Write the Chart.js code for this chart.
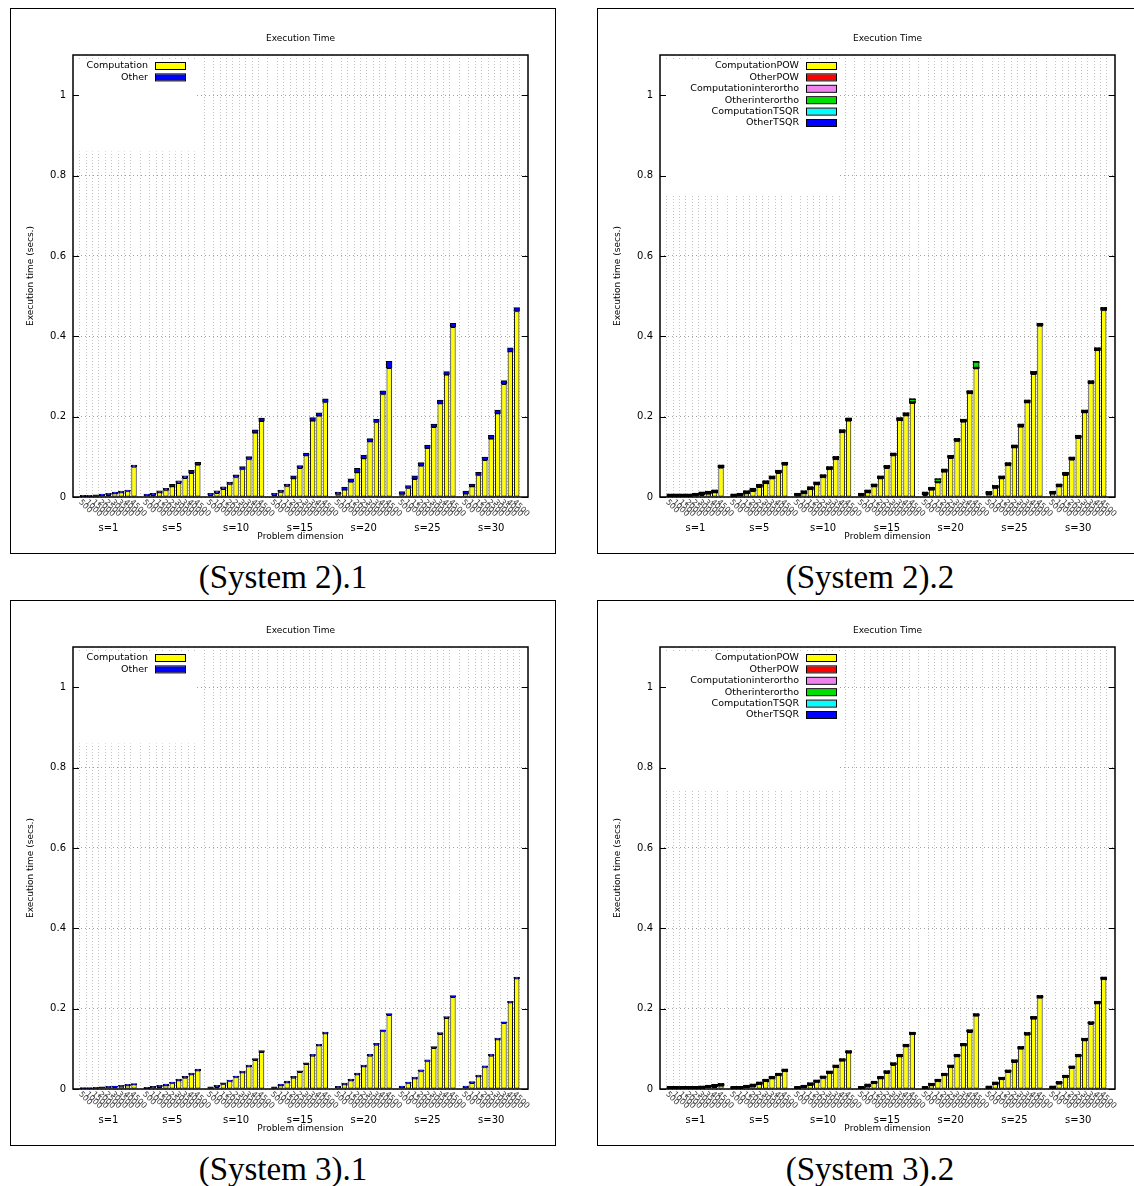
<!DOCTYPE html>
<html>
<head>
<meta charset="utf-8">
<script src="https://cdn.jsdelivr.net/npm/chart.js@4.4.1/dist/chart.umd.min.js"></script>
<style>
  html, body { margin: 0; padding: 0; background: #fff; overflow: hidden; }
  body { width: 1134px; height: 1186px; position: relative; }
  .panel { position: absolute; width: 544px; height: 544px; border: 1px solid #000; }
  .panel canvas { display: block; }
  .caption { position: absolute; width: 546px; text-align: center;
    font-family: "Liberation Serif", serif; font-size: 33px; line-height: 36px; color: #000; }
</style>
</head>
<body>
<div class="panel" style="left:10px;top:8px"><canvas id="c1" width="544" height="544"></canvas></div>
<div class="panel" style="left:597px;top:8px"><canvas id="c2" width="544" height="544"></canvas></div>
<div class="panel" style="left:10px;top:600px"><canvas id="c3" width="544" height="544"></canvas></div>
<div class="panel" style="left:597px;top:600px"><canvas id="c4" width="544" height="544"></canvas></div>
<div class="caption" style="left:10px;top:559px">(System 2).1</div>
<div class="caption" style="left:597px;top:559px">(System 2).2</div>
<div class="caption" style="left:10px;top:1151px">(System 3).1</div>
<div class="caption" style="left:597px;top:1151px">(System 3).2</div>

<script>
// problem dimensions (one bar each) and the s groups
const dims = ['500', '1000', '1500', '2000', '2500', '3000', '3500', '4000', '4500'];
const groups = ['s=1', 's=5', 's=10', 's=15', 's=20', 's=25', 's=30'];
const yTicks = [0, 0.2, 0.4, 0.6, 0.8, 1];

// System 2, two-part split
const sys2Computation = [
  0.001, 0.001, 0.002, 0.004, 0.006, 0.009, 0.011, 0.014, 0.075,
  0.004, 0.005, 0.011, 0.017, 0.026, 0.035, 0.047, 0.060, 0.080,
  0.005, 0.010, 0.020, 0.032, 0.049, 0.069, 0.094, 0.160, 0.189,
  0.005, 0.012, 0.027, 0.046, 0.072, 0.103, 0.190, 0.202, 0.236,
  0.007, 0.018, 0.038, 0.061, 0.096, 0.138, 0.186, 0.256, 0.321,
  0.007, 0.022, 0.045, 0.078, 0.122, 0.174, 0.233, 0.304, 0.423,
  0.008, 0.026, 0.054, 0.092, 0.145, 0.208, 0.281, 0.362, 0.462
];
const sys2Other = [
  0.003, 0.003, 0.003, 0.003, 0.003, 0.003, 0.003, 0.003, 0.004,
  0.003, 0.004, 0.004, 0.004, 0.005, 0.005, 0.005, 0.006, 0.006,
  0.004, 0.005, 0.005, 0.005, 0.006, 0.006, 0.006, 0.007, 0.007,
  0.004, 0.005, 0.005, 0.006, 0.006, 0.006, 0.007, 0.007, 0.008,
  0.005, 0.006, 0.007, 0.010, 0.007, 0.007, 0.007, 0.008, 0.016,
  0.006, 0.006, 0.007, 0.007, 0.007, 0.007, 0.008, 0.008, 0.009,
  0.006, 0.006, 0.007, 0.007, 0.008, 0.008, 0.008, 0.009, 0.009
];

// System 2, per-kernel split
const sys2CompPOW = [
  0.001, 0.001, 0.001, 0.001, 0.003, 0.006, 0.008, 0.011, 0.073,
  0.001, 0.003, 0.009, 0.015, 0.025, 0.034, 0.046, 0.060, 0.080,
  0.003, 0.009, 0.019, 0.031, 0.049, 0.069, 0.094, 0.161, 0.190,
  0.003, 0.011, 0.026, 0.046, 0.072, 0.103, 0.191, 0.203, 0.234,
  0.006, 0.018, 0.036, 0.063, 0.097, 0.139, 0.187, 0.258, 0.320,
  0.007, 0.022, 0.046, 0.079, 0.123, 0.175, 0.235, 0.306, 0.426,
  0.008, 0.026, 0.055, 0.093, 0.147, 0.210, 0.283, 0.365, 0.465
];
const sys2OtherPOW = [
  0.001, 0.001, 0.001, 0.001, 0.001, 0.001, 0.001, 0.001, 0.001,
  0.001, 0.001, 0.001, 0.001, 0.001, 0.001, 0.001, 0.001, 0.001,
  0.001, 0.001, 0.001, 0.001, 0.001, 0.001, 0.001, 0.001, 0.001,
  0.001, 0.001, 0.001, 0.001, 0.001, 0.001, 0.001, 0.001, 0.001,
  0.001, 0.001, 0.001, 0.001, 0.001, 0.001, 0.001, 0.001, 0.001,
  0.001, 0.001, 0.001, 0.001, 0.001, 0.001, 0.001, 0.001, 0.001,
  0.001, 0.001, 0.001, 0.001, 0.001, 0.001, 0.001, 0.001, 0.001
];
const sys2CompInter = [
  0.002, 0.002, 0.002, 0.002, 0.002, 0.002, 0.002, 0.002, 0.002,
  0.002, 0.002, 0.002, 0.002, 0.002, 0.002, 0.002, 0.002, 0.002,
  0.002, 0.002, 0.002, 0.002, 0.002, 0.002, 0.002, 0.002, 0.002,
  0.002, 0.002, 0.002, 0.002, 0.002, 0.002, 0.002, 0.002, 0.002,
  0.002, 0.002, 0.002, 0.002, 0.002, 0.002, 0.002, 0.002, 0.002,
  0.002, 0.002, 0.002, 0.002, 0.002, 0.002, 0.002, 0.002, 0.002,
  0.002, 0.002, 0.002, 0.002, 0.002, 0.002, 0.002, 0.002, 0.002
];
const sys2OtherInter = [
  0.001, 0.001, 0.001, 0.001, 0.001, 0.001, 0.001, 0.001, 0.001,
  0.001, 0.001, 0.001, 0.001, 0.001, 0.001, 0.001, 0.001, 0.001,
  0.001, 0.001, 0.001, 0.001, 0.001, 0.001, 0.001, 0.001, 0.001,
  0.001, 0.001, 0.001, 0.001, 0.001, 0.001, 0.001, 0.001, 0.005,
  0.001, 0.001, 0.004, 0.001, 0.001, 0.001, 0.001, 0.001, 0.012,
  0.001, 0.001, 0.001, 0.001, 0.001, 0.001, 0.001, 0.001, 0.001,
  0.001, 0.001, 0.001, 0.001, 0.001, 0.001, 0.001, 0.001, 0.001
];
const sys2CompTSQR = [
  0.001, 0.001, 0.001, 0.001, 0.001, 0.001, 0.001, 0.001, 0.001,
  0.001, 0.001, 0.001, 0.001, 0.001, 0.001, 0.001, 0.001, 0.001,
  0.001, 0.001, 0.001, 0.001, 0.001, 0.001, 0.001, 0.001, 0.001,
  0.001, 0.001, 0.001, 0.001, 0.001, 0.001, 0.001, 0.001, 0.001,
  0.001, 0.001, 0.001, 0.001, 0.001, 0.001, 0.001, 0.001, 0.001,
  0.001, 0.001, 0.001, 0.001, 0.001, 0.001, 0.001, 0.001, 0.001,
  0.001, 0.001, 0.001, 0.001, 0.001, 0.001, 0.001, 0.001, 0.001
];
const sys2OtherTSQR = [
  0.001, 0.001, 0.001, 0.001, 0.001, 0.001, 0.001, 0.001, 0.001,
  0.001, 0.001, 0.001, 0.001, 0.001, 0.001, 0.001, 0.001, 0.001,
  0.001, 0.001, 0.001, 0.001, 0.001, 0.001, 0.001, 0.001, 0.001,
  0.001, 0.001, 0.001, 0.001, 0.001, 0.001, 0.001, 0.001, 0.001,
  0.001, 0.001, 0.001, 0.001, 0.001, 0.001, 0.001, 0.001, 0.001,
  0.001, 0.001, 0.001, 0.001, 0.001, 0.001, 0.001, 0.001, 0.001,
  0.001, 0.001, 0.001, 0.001, 0.001, 0.001, 0.001, 0.001, 0.001
];

// System 3, two-part split
const sys3Computation = [
  0.001, 0.001, 0.002, 0.003, 0.004, 0.005, 0.007, 0.009, 0.011,
  0.001, 0.003, 0.006, 0.009, 0.014, 0.021, 0.028, 0.036, 0.046,
  0.002, 0.006, 0.012, 0.019, 0.029, 0.041, 0.056, 0.072, 0.092,
  0.002, 0.009, 0.016, 0.028, 0.042, 0.062, 0.083, 0.108, 0.138,
  0.003, 0.011, 0.021, 0.036, 0.056, 0.083, 0.110, 0.144, 0.184,
  0.004, 0.014, 0.026, 0.044, 0.069, 0.102, 0.137, 0.177, 0.229,
  0.004, 0.015, 0.031, 0.054, 0.083, 0.123, 0.164, 0.215, 0.275
];
const sys3Other = [
  0.002, 0.002, 0.002, 0.002, 0.002, 0.002, 0.002, 0.002, 0.002,
  0.003, 0.003, 0.003, 0.003, 0.003, 0.003, 0.003, 0.003, 0.003,
  0.003, 0.003, 0.003, 0.003, 0.003, 0.003, 0.003, 0.003, 0.003,
  0.003, 0.003, 0.003, 0.003, 0.003, 0.003, 0.003, 0.003, 0.003,
  0.003, 0.003, 0.003, 0.003, 0.003, 0.003, 0.003, 0.003, 0.003,
  0.003, 0.003, 0.003, 0.003, 0.003, 0.003, 0.003, 0.003, 0.003,
  0.003, 0.003, 0.003, 0.003, 0.003, 0.003, 0.003, 0.003, 0.003
];

// System 3, per-kernel split
const sys3CompPOW = [
  0.001, 0.001, 0.001, 0.001, 0.001, 0.002, 0.004, 0.006, 0.008,
  0.001, 0.001, 0.004, 0.007, 0.012, 0.019, 0.026, 0.034, 0.044,
  0.001, 0.004, 0.010, 0.017, 0.027, 0.039, 0.054, 0.070, 0.090,
  0.001, 0.007, 0.014, 0.026, 0.040, 0.060, 0.081, 0.106, 0.136,
  0.001, 0.009, 0.019, 0.034, 0.054, 0.081, 0.108, 0.142, 0.182,
  0.002, 0.012, 0.024, 0.042, 0.067, 0.100, 0.135, 0.175, 0.227,
  0.002, 0.013, 0.029, 0.052, 0.081, 0.121, 0.162, 0.213, 0.273
];
const sys3Small = [
  0.001, 0.001, 0.001, 0.001, 0.001, 0.001, 0.001, 0.001, 0.001,
  0.001, 0.001, 0.001, 0.001, 0.001, 0.001, 0.001, 0.001, 0.001,
  0.001, 0.001, 0.001, 0.001, 0.001, 0.001, 0.001, 0.001, 0.001,
  0.001, 0.001, 0.001, 0.001, 0.001, 0.001, 0.001, 0.001, 0.001,
  0.001, 0.001, 0.001, 0.001, 0.001, 0.001, 0.001, 0.001, 0.001,
  0.001, 0.001, 0.001, 0.001, 0.001, 0.001, 0.001, 0.001, 0.001,
  0.001, 0.001, 0.001, 0.001, 0.001, 0.001, 0.001, 0.001, 0.001
];
const sys3OtherPOW = sys3Small;
const sys3CompInter = sys3Small;
const sys3OtherInter = sys3Small;
const sys3CompTSQR = sys3Small;
const sys3OtherTSQR = sys3Small;

const COLORS = {
  yellow: '#ffff00', red: '#ff0000', violet: '#ee82ee',
  green: '#00e000', cyan: '#00ffff', blue: '#0000ff'
};
const FONT = '"DejaVu Sans", sans-serif';

// bar slot on the x axis: 9 bars per group, one empty slot between groups
const barPos = [];
groups.forEach((g, gi) => dims.forEach((d, di) => barPos.push(gi * 10 + di)));

const twoPart = (comp, other) => [
  { label: 'Computation', color: COLORS.yellow, data: comp },
  { label: 'Other', color: COLORS.blue, data: other, inflate: 0.5 }
];
// the thin kernel slices are mostly outline, so they read as black
const sixPart = (a, b, c, d, e, f) => [
  { label: 'ComputationPOW', color: COLORS.yellow, data: a },
  { label: 'OtherPOW', color: COLORS.red, data: b, thin: true },
  { label: 'Computationinterortho', color: COLORS.violet, data: c, thin: true },
  { label: 'Otherinterortho', color: COLORS.green, data: d, thin: true },
  { label: 'ComputationTSQR', color: COLORS.cyan, data: e, thin: true },
  { label: 'OtherTSQR', color: COLORS.blue, data: f, thin: true }
];

const gnuplotLook = {
  id: 'gnuplotLook',
  beforeDatasetsDraw(chart, args, opts) {
    // the key sits on a blank patch that hides the grid
    const { ctx, chartArea: a, scales: { y } } = chart;
    ctx.save();
    ctx.fillStyle = '#fff';
    ctx.fillRect(a.left + 1, a.top + 4, opts.blankWidth, y.getPixelForValue(opts.blankTo) - a.top - 4);
    ctx.restore();
  },
  afterDraw(chart, args, opts) {
    const { ctx, chartArea: a, scales: { x, y } } = chart;
    ctx.save();
    ctx.fillStyle = '#000';
    ctx.strokeStyle = '#000';

    // frame and inward y tics on both sides
    ctx.lineWidth = 1.5;
    ctx.strokeRect(a.left, a.top, a.right - a.left, a.bottom - a.top);
    ctx.lineWidth = 1;
    yTicks.forEach(v => {
      const py = Math.round(y.getPixelForValue(v)) + 0.5;
      ctx.beginPath();
      ctx.moveTo(a.left, py); ctx.lineTo(a.left + 6, py);
      ctx.moveTo(a.right, py); ctx.lineTo(a.right - 6, py);
      ctx.stroke();
    });

    const cx = (a.left + a.right) / 2;
    ctx.textAlign = 'center';
    ctx.textBaseline = 'middle';
    ctx.font = '9px ' + FONT;
    ctx.fillText('Execution Time', cx, 30);
    ctx.fillText('Problem dimension', cx, a.bottom + 40);

    ctx.save();
    ctx.translate(20, (a.top + a.bottom) / 2);
    ctx.rotate(-Math.PI / 2);
    ctx.fillText('Execution time (secs.)', 0, 0);
    ctx.restore();

    // group names under each block of bars
    ctx.font = '10px ' + FONT;
    groups.forEach((g, gi) => {
      ctx.fillText(g, x.getPixelForValue(gi * 10 + 4), a.bottom + 31);
    });

    // rotated dimension labels
    ctx.font = '8px ' + FONT;
    ctx.fillStyle = '#3a3a3a';
    ctx.textAlign = 'left';
    barPos.forEach((p, i) => {
      ctx.save();
      ctx.translate(x.getPixelForValue(p) - 3, a.bottom + 4);
      ctx.rotate(Math.PI / 4);
      ctx.fillText(dims[i % dims.length], 0, 0);
      ctx.restore();
    });

    // key: right-aligned names with a sample box after them
    ctx.font = '9.5px ' + FONT;
    ctx.textAlign = 'right';
    chart.data.datasets.forEach((ds, i) => {
      const ty = a.top + 11 + i * 11.4;
      const tx = a.left + opts.keyRight;
      ctx.fillStyle = '#000';
      ctx.fillText(ds.label, tx, ty);
      ctx.fillStyle = ds.keyColor;
      ctx.fillRect(tx + 7, ty - 3, 30, 6);
      ctx.strokeRect(tx + 7.5, ty - 3.5, 30, 7);
    });
    ctx.restore();
  }
};

function drawPanel(canvasId, series, look) {
  const ctx = document.getElementById(canvasId).getContext('2d');
  return new Chart(ctx, {
    type: 'bar',
    data: {
      datasets: series.map(s => ({
        label: s.label,
        keyColor: s.color,
        data: barPos.map((p, i) => ({ x: p, y: s.data[i] })),
        backgroundColor: c => (s.thin && c.raw && c.raw.y < 0.004 ? '#000' : s.color),
        borderColor: '#000',
        borderWidth: 1,
        borderSkipped: false,
        inflateAmount: s.thin ? 0.7 : (s.inflate || 0),
        barPercentage: 1,
        categoryPercentage: 0.84
      }))
    },
    options: {
      responsive: false,
      animation: false,
      devicePixelRatio: 1,
      layout: { padding: { top: 46, right: 27, left: 0, bottom: 0 } },
      plugins: {
        legend: { display: false },
        tooltip: { enabled: false },
        gnuplotLook: look
      },
      scales: {
        x: {
          type: 'linear',
          min: -1,
          max: 69.2,
          stacked: true,
          afterBuildTicks: s => { s.ticks = barPos.map(v => ({ value: v })); },
          afterFit: s => { s.height = 56; },
          ticks: { display: false },
          grid: { color: '#c4c4c4', lineWidth: 1, drawTicks: false },
          border: { display: false, dash: [1, 2] }
        },
        y: {
          min: 0,
          max: 1.1,
          stacked: true,
          afterFit: s => { s.width = 62; },
          afterBuildTicks: s => { s.ticks = yTicks.map(v => ({ value: v })); },
          ticks: {
            padding: 7,
            color: '#000',
            font: { family: FONT, size: 10 },
            callback: v => String(+v.toFixed(1))
          },
          grid: { color: '#a0a0a0', lineWidth: 1, drawTicks: false },
          border: { display: false, dash: [1, 3] }
        }
      }
    },
    plugins: [gnuplotLook]
  });
}

drawPanel('c1', twoPart(sys2Computation, sys2Other),
  { keyRight: 75, blankWidth: 121, blankTo: 0.86 });
drawPanel('c2', sixPart(sys2CompPOW, sys2OtherPOW, sys2CompInter, sys2OtherInter, sys2CompTSQR, sys2OtherTSQR),
  { keyRight: 139, blankWidth: 179, blankTo: 0.75 });
drawPanel('c3', twoPart(sys3Computation, sys3Other),
  { keyRight: 75, blankWidth: 121, blankTo: 0.86 });
drawPanel('c4', sixPart(sys3CompPOW, sys3OtherPOW, sys3CompInter, sys3OtherInter, sys3CompTSQR, sys3OtherTSQR),
  { keyRight: 139, blankWidth: 179, blankTo: 0.745 });
</script>
</body>
</html>
